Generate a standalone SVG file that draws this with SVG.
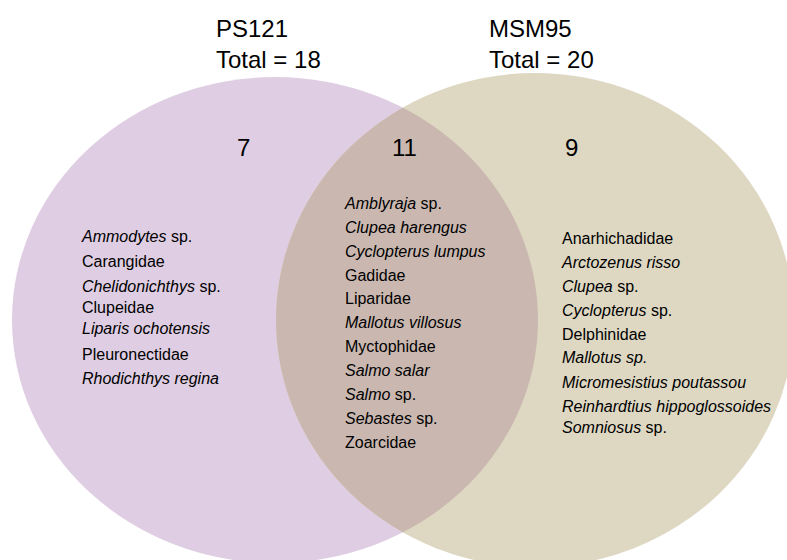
<svg xmlns="http://www.w3.org/2000/svg" width="787" height="560" viewBox="0 0 787 560">
<style>
text{font-family:"Liberation Sans",Arial,sans-serif;fill:#000}
.t{font-size:24px}
.n{font-size:24px}
.l{font-size:16px}
.i{font-style:italic}
</style>
<defs>
<clipPath id="clipL"><ellipse cx="275" cy="320" rx="263" ry="243"/></clipPath>
</defs>
<rect width="787" height="560" fill="#ffffff"/>
<g id="set-ps121">
<ellipse cx="275" cy="320" rx="263" ry="243" fill="#dfcee3"/>
</g>
<g id="set-msm95">
<ellipse cx="535" cy="320" rx="259" ry="247" fill="#ded8c3"/>
</g>
<g id="overlap">
<ellipse cx="535" cy="320" rx="259" ry="247" fill="#cab8b0" clip-path="url(#clipL)"/>
</g>
<g id="titles">
<text class="t" x="216" y="37">PS121</text>
<text class="t" x="216" y="68">Total = 18</text>
<text class="t" x="489" y="37">MSM95</text>
<text class="t" x="489" y="68">Total = 20</text>
</g>
<g id="counts">
<text class="n" x="237" y="156">7</text>
<text class="n" x="392" y="156">11</text>
<text class="n" x="565" y="156">9</text>
</g>
<g id="list-ps121">
<text class="l" x="82" y="242"><tspan class="i">Ammodytes</tspan> sp.</text>
<text class="l" x="82" y="267">Carangidae</text>
<text class="l" x="82" y="292"><tspan class="i">Chelidonichthys</tspan> sp.</text>
<text class="l" x="82" y="313">Clupeidae</text>
<text class="l i" x="82" y="334">Liparis ochotensis</text>
<text class="l" x="82" y="360">Pleuronectidae</text>
<text class="l i" x="82" y="384">Rhodichthys regina</text>
</g>
<g id="list-shared">
<text class="l" x="345" y="209"><tspan class="i">Amblyraja</tspan> sp.</text>
<text class="l i" x="345" y="233">Clupea harengus</text>
<text class="l i" x="345" y="257">Cyclopterus lumpus</text>
<text class="l" x="345" y="281">Gadidae</text>
<text class="l" x="345" y="304">Liparidae</text>
<text class="l i" x="345" y="328">Mallotus villosus</text>
<text class="l" x="345" y="352">Myctophidae</text>
<text class="l i" x="345" y="376">Salmo salar</text>
<text class="l" x="345" y="400"><tspan class="i">Salmo</tspan> sp.</text>
<text class="l" x="345" y="424"><tspan class="i">Sebastes</tspan> sp.</text>
<text class="l" x="345" y="448">Zoarcidae</text>
</g>
<g id="list-msm95">
<text class="l" x="562" y="244">Anarhichadidae</text>
<text class="l i" x="562" y="268">Arctozenus risso</text>
<text class="l" x="562" y="292"><tspan class="i">Clupea</tspan> sp.</text>
<text class="l" x="562" y="316"><tspan class="i">Cyclopterus</tspan> sp.</text>
<text class="l" x="562" y="340">Delphinidae</text>
<text class="l i" x="562" y="363">Mallotus sp.</text>
<text class="l i" x="562" y="388">Micromesistius poutassou</text>
<text class="l i" x="562" y="412">Reinhardtius hippoglossoides</text>
<text class="l" x="562" y="433"><tspan class="i">Somniosus</tspan> sp.</text>
</g>
</svg>
